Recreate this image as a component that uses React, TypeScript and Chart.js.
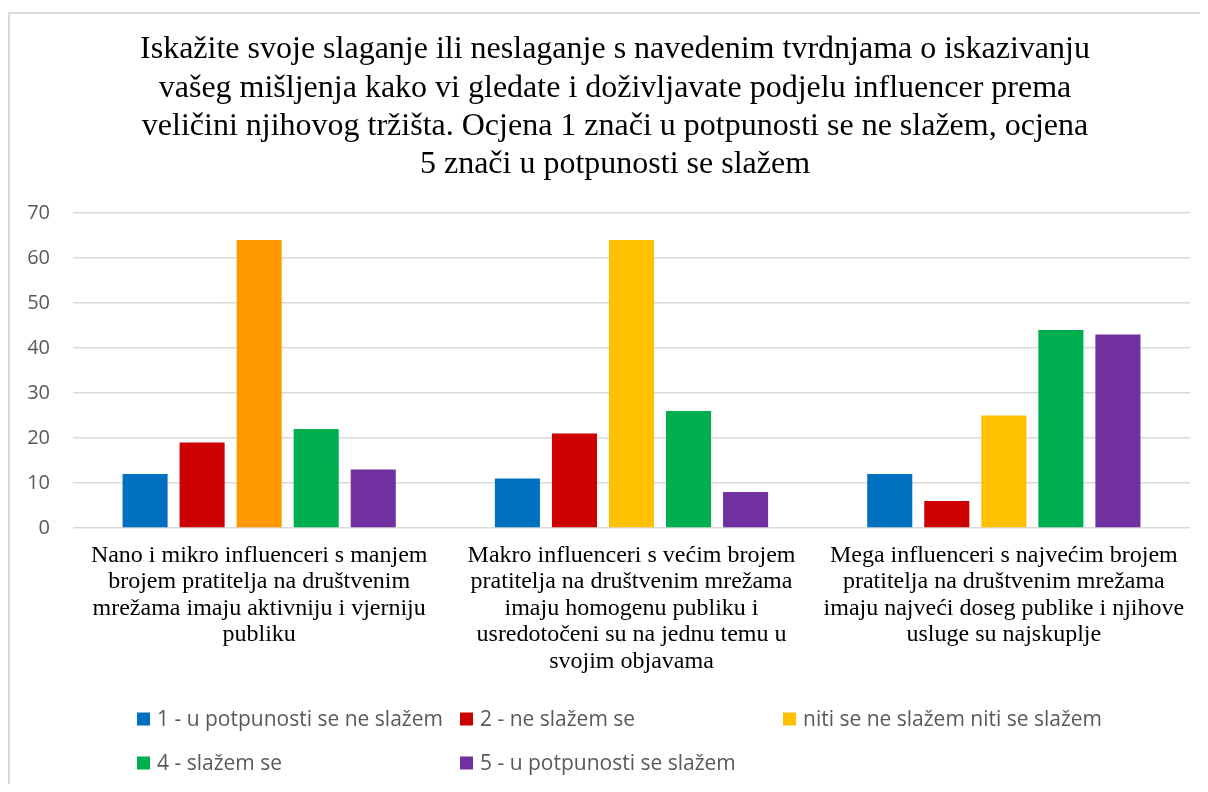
import React, { useEffect, useRef } from "react";
import { Chart, registerables } from "chart.js";

Chart.register(...registerables);

const titleLines = [
  "Iskažite svoje slaganje ili neslaganje s navedenim tvrdnjama o iskazivanju",
  "vašeg mišljenja kako vi gledate i doživljavate podjelu influencer prema",
  "veličini njihovog tržišta. Ocjena 1 znači u potpunosti se ne slažem, ocjena",
  "5 znači u potpunosti se slažem",
];

const categories = [
  ["Nano i mikro influenceri s manjem", "brojem pratitelja na društvenim", "mrežama imaju aktivniju i vjerniju", "publiku"],
  ["Makro influenceri s većim brojem", "pratitelja na društvenim mrežama", "imaju homogenu publiku i", "usredotočeni su na jednu temu u", "svojim objavama"],
  ["Mega influenceri s najvećim brojem", "pratitelja na društvenim mrežama", "imaju najveći doseg publike i njihove", "usluge su najskuplje"],
];

const seriesNames = [
  "1 - u potpunosti se ne slažem",
  "2 - ne slažem se",
  "niti se ne slažem niti se slažem",
  "4 - slažem se",
  "5 - u potpunosti se slažem",
];

const values1 = [12, 11, 12];
const values2 = [19, 21, 6];
const values3 = [64, 64, 25];
const values4 = [22, 26, 44];
const values5 = [13, 8, 43];

const colors1 = ["#0070C0", "#0070C0", "#0070C0"];
const colors2 = ["#CC0000", "#CC0000", "#CC0000"];
const colors3 = ["#FF9900", "#FFC000", "#FFC000"];
const colors4 = ["#00B050", "#00B050", "#00B050"];
const colors5 = ["#7030A0", "#7030A0", "#7030A0"];

const legendColors = ["#0070C0", "#CC0000", "#FFC000", "#00B050", "#7030A0"];

const yTicks = [0, 10, 20, 30, 40, 50, 60, 70];

const titlePlugin = {
  id: "customTitle",
  afterDraw(chart: any) {
    const ctx = chart.ctx;
    ctx.save();
    ctx.font = "32px 'Liberation Serif', 'Times New Roman', serif";
    ctx.fillStyle = "#000000";
    ctx.textAlign = "center";
    ctx.textBaseline = "middle";
    titleLines.forEach((line, i) => {
      ctx.fillText(line, 607, 42 + i * 38.3);
    });
    ctx.restore();
  },
};

const legendPlugin = {
  id: "gridLegend",
  afterDraw(chart: any) {
    const ctx = chart.ctx;
    const cols = [129, 452, 775];
    const rows = [711, 755];
    ctx.save();
    ctx.font = "21px 'Open Sans'";
    ctx.textBaseline = "middle";
    ctx.textAlign = "left";
    seriesNames.forEach((name, i) => {
      const x = cols[i % 3];
      const y = rows[Math.floor(i / 3)];
      ctx.fillStyle = legendColors[i];
      ctx.fillRect(x, y - 6.5, 13, 13);
      ctx.fillStyle = "#595959";
      ctx.fillText(name, x + 20, y + 1);
    });
    ctx.restore();
  },
};

export default function App() {
  const ref = useRef<HTMLCanvasElement | null>(null);

  useEffect(() => {
    if (!ref.current) return;
    const values = [values1, values2, values3, values4, values5];
    const cols = [colors1, colors2, colors3, colors4, colors5];
    const chart = new Chart(ref.current, {
      type: "bar",
      data: {
        labels: categories,
        datasets: seriesNames.map((name, i) => ({
          label: name,
          data: values[i],
          backgroundColor: cols[i],
          borderWidth: 0,
          barPercentage: 0.79,
          categoryPercentage: 0.766,
        })),
      },
      plugins: [titlePlugin, legendPlugin],
      options: {
        responsive: false,
        animation: false,
        layout: { padding: { left: 0, right: 32, top: 205, bottom: 106 } },
        plugins: {
          legend: { display: false },
          tooltip: { enabled: false },
          title: { display: false },
        },
        scales: {
          x: {
            grid: { display: false, drawTicks: false },
            border: { display: false },
            ticks: {
              color: "#000000",
              font: { family: "'Liberation Serif', 'Times New Roman', serif", size: 24, lineHeight: 26.5 / 24 },
              padding: 14,
              maxRotation: 0,
              autoSkip: false,
            },
            afterFit: (s: any) => {
              s.height = 150;
            },
          },
          y: {
            min: 0,
            max: 70,
            afterBuildTicks: (s: any) => {
              s.ticks = yTicks.map((v) => ({ value: v }));
            },
            grid: { color: "#D9D9D9", lineWidth: 1.5, drawTicks: false },
            border: { display: false },
            ticks: {
              color: "#595959",
              font: { family: "'Open Sans', sans-serif", size: 20 },
              padding: 23,
            },
            afterFit: (s: any) => {
              s.width = 65;
            },
          },
        },
      },
    });
    return () => chart.destroy();
  }, []);

  return (
    <div style={{ position: "relative", width: 1200, height: 776, overflow: "hidden" }}>
      <div
        style={{
          position: "absolute",
          left: 0,
          top: 4,
          width: 2000,
          height: 2000,
          borderLeft: "2px solid #D9D9D9",
          borderTop: "2px solid #D9D9D9",
        }}
      />
      <canvas ref={ref} width={1214} height={776} style={{ position: "absolute", left: 0, top: 0, width: 1214, height: 776 }} />
    </div>
  );
}
